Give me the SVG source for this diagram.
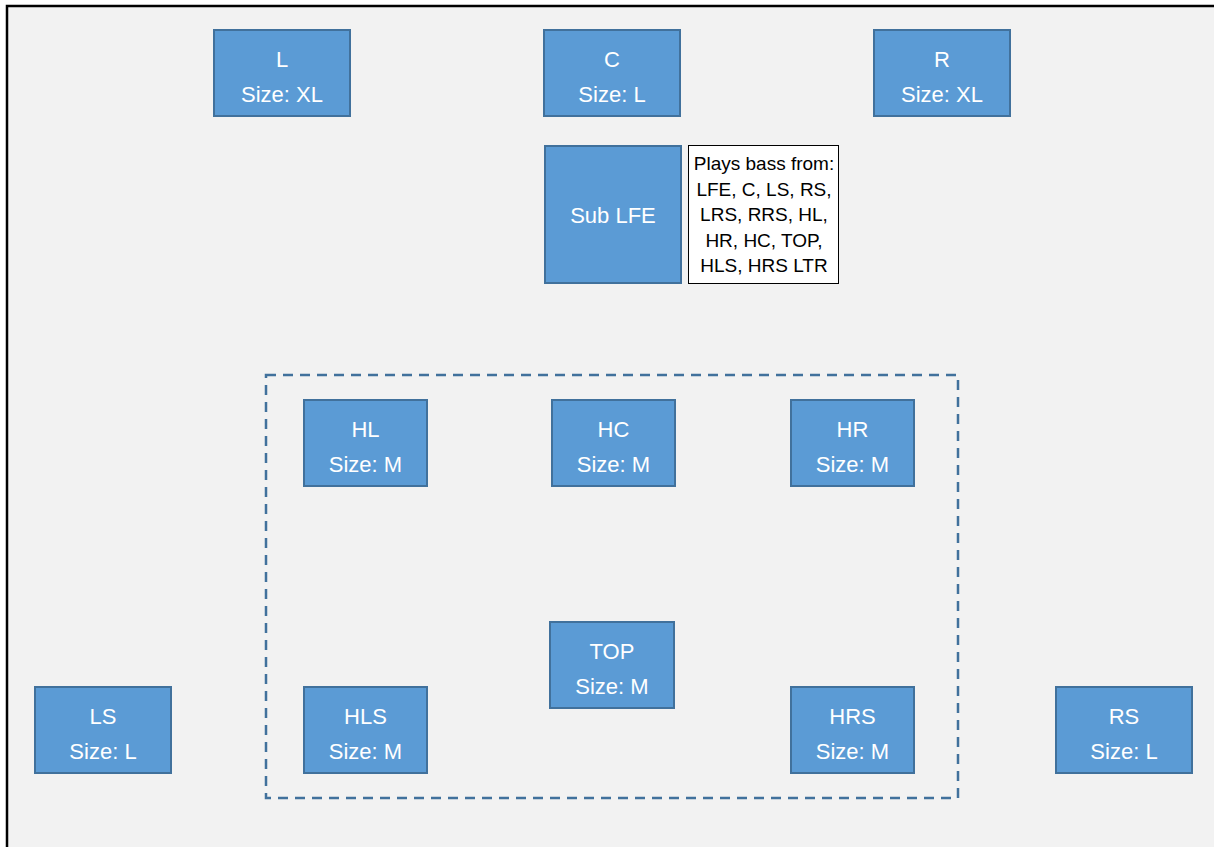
<svg xmlns="http://www.w3.org/2000/svg" width="1214" height="847" viewBox="0 0 1214 847">
  <style>
    .spk { fill: #5b9bd5; stroke: #41719c; stroke-width: 2; }
    .lbl { font-family: "Liberation Sans", Arial, sans-serif; font-size: 22px; fill: #ffffff; text-anchor: middle; }
    .note { font-family: "Liberation Sans", Arial, sans-serif; font-size: 19px; fill: #000000; text-anchor: middle; }
  </style>
  <!-- page and frame -->
  <rect x="0" y="0" width="1214" height="847" fill="#ffffff"/>
  <rect x="7" y="6" width="1207" height="841" fill="#f2f2f2"/>
  <path d="M7,847 V6 H1214" fill="none" stroke="#000000" stroke-width="2.5"/>

  <!-- height-layer grouping -->
  <g id="connectors">
    <rect x="266" y="375" width="692" height="423" fill="none" stroke="#41719c" stroke-width="2.5" stroke-dasharray="10,7"/>
  </g>

  <g id="L">
    <rect class="spk" x="214" y="30" width="136" height="86"/>
    <text class="lbl" x="282" y="67">L</text>
    <text class="lbl" x="282" y="102">Size: XL</text>
  </g>
  <g id="C">
    <rect class="spk" x="544" y="30" width="136" height="86"/>
    <text class="lbl" x="612" y="67">C</text>
    <text class="lbl" x="612" y="102">Size: L</text>
  </g>
  <g id="R">
    <rect class="spk" x="874" y="30" width="136" height="86"/>
    <text class="lbl" x="942" y="67">R</text>
    <text class="lbl" x="942" y="102">Size: XL</text>
  </g>

  <g id="SubLFE">
    <rect class="spk" x="545" y="146" width="136" height="137"/>
    <text class="lbl" x="613" y="223">Sub LFE</text>
  </g>
  <g id="bass-note">
    <rect x="688.5" y="145.5" width="150" height="138" fill="#ffffff" stroke="#000000" stroke-width="1"/>
    <text class="note" x="764" y="170">Plays bass from:</text>
    <text class="note" x="764" y="195.5">LFE, C, LS, RS,</text>
    <text class="note" x="764" y="221">LRS, RRS, HL,</text>
    <text class="note" x="764" y="246.5">HR, HC, TOP,</text>
    <text class="note" x="764" y="272">HLS, HRS LTR</text>
  </g>

  <g id="HL">
    <rect class="spk" x="304" y="400" width="123" height="86"/>
    <text class="lbl" x="365.5" y="437">HL</text>
    <text class="lbl" x="365.5" y="472">Size: M</text>
  </g>
  <g id="HC">
    <rect class="spk" x="552" y="400" width="123" height="86"/>
    <text class="lbl" x="613.5" y="437">HC</text>
    <text class="lbl" x="613.5" y="472">Size: M</text>
  </g>
  <g id="HR">
    <rect class="spk" x="791" y="400" width="123" height="86"/>
    <text class="lbl" x="852.5" y="437">HR</text>
    <text class="lbl" x="852.5" y="472">Size: M</text>
  </g>

  <g id="TOP">
    <rect class="spk" x="550" y="622" width="124" height="86"/>
    <text class="lbl" x="612" y="659">TOP</text>
    <text class="lbl" x="612" y="694">Size: M</text>
  </g>

  <g id="LS">
    <rect class="spk" x="35" y="687" width="136" height="86"/>
    <text class="lbl" x="103" y="724">LS</text>
    <text class="lbl" x="103" y="759">Size: L</text>
  </g>
  <g id="HLS">
    <rect class="spk" x="304" y="687" width="123" height="86"/>
    <text class="lbl" x="365.5" y="724">HLS</text>
    <text class="lbl" x="365.5" y="759">Size: M</text>
  </g>
  <g id="HRS">
    <rect class="spk" x="791" y="687" width="123" height="86"/>
    <text class="lbl" x="852.5" y="724">HRS</text>
    <text class="lbl" x="852.5" y="759">Size: M</text>
  </g>
  <g id="RS">
    <rect class="spk" x="1056" y="687" width="136" height="86"/>
    <text class="lbl" x="1124" y="724">RS</text>
    <text class="lbl" x="1124" y="759">Size: L</text>
  </g>
</svg>
